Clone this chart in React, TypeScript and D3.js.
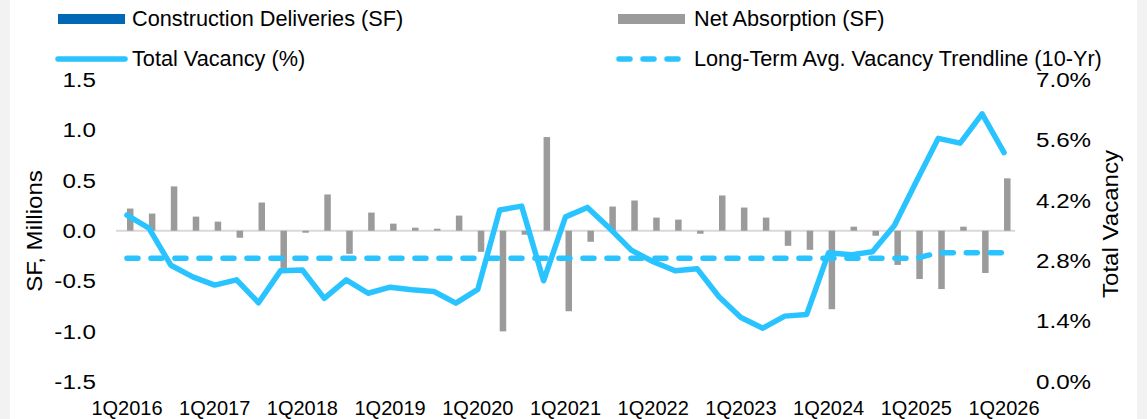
import React from "react";
import * as d3 from "d3";

const quarters = [
  "1Q2016", "2Q2016", "3Q2016", "4Q2016",
  "1Q2017", "2Q2017", "3Q2017", "4Q2017",
  "1Q2018", "2Q2018", "3Q2018", "4Q2018",
  "1Q2019", "2Q2019", "3Q2019", "4Q2019",
  "1Q2020", "2Q2020", "3Q2020", "4Q2020",
  "1Q2021", "2Q2021", "3Q2021", "4Q2021",
  "1Q2022", "2Q2022", "3Q2022", "4Q2022",
  "1Q2023", "2Q2023", "3Q2023", "4Q2023",
  "1Q2024", "2Q2024", "3Q2024", "4Q2024",
  "1Q2025", "2Q2025", "3Q2025", "4Q2025",
  "1Q2026",
];

// SF, millions
const deliveries = [
  0, 0, 0, 0, 0, 0, 0, 0, 0, 0, 0, 0, 0, 0, 0, 0, 0, 0, 0, 0, 0,
  0, 0, 0, 0, 0, 0, 0, 0, 0, 0, 0, 0, 0, 0, 0, 0, 0, 0, 0, 0,
];
const absorption = [
  0.22, 0.17, 0.44, 0.14, 0.09, -0.07, 0.28, -0.37,
  -0.02, 0.36, -0.23, 0.18, 0.07, 0.03, 0.02, 0.15,
  -0.21, -1.0, -0.04, 0.93, -0.8, -0.11, 0.24, 0.3,
  0.13, 0.11, -0.03, 0.35, 0.23, 0.13, -0.15, -0.19,
  -0.78, 0.04, -0.05, -0.34, -0.48, -0.58, 0.04, -0.42,
  0.52,
];
// percent
const vacancy = [
  3.86, 3.56, 2.7, 2.43, 2.24, 2.36, 1.83, 2.57,
  2.59, 1.93, 2.36, 2.05, 2.19, 2.13, 2.09, 1.82,
  2.14, 3.98, 4.07, 2.34, 3.82, 4.04, 3.56, 3.05,
  2.78, 2.57, 2.62, 1.97, 1.49, 1.24, 1.52, 1.56,
  2.99, 2.94, 3.01, 3.62, 4.64, 5.64, 5.53, 6.21,
  5.31,
];
const trendline = [
  2.86, 2.86, 2.86, 2.86, 2.86, 2.86, 2.86, 2.86,
  2.86, 2.86, 2.86, 2.86, 2.86, 2.86, 2.86, 2.86,
  2.86, 2.86, 2.86, 2.86, 2.86, 2.86, 2.86, 2.86,
  2.86, 2.86, 2.86, 2.86, 2.86, 2.86, 2.86, 2.86,
  2.86, 2.86, 2.86, 2.86, 2.86, 2.99, 2.99, 2.99,
  2.99,
];

const leftTicks = [-1.5, -1.0, -0.5, 0, 0.5, 1.0, 1.5];
const rightTicks = [0, 1.4, 2.8, 4.2, 5.6, 7.0];

const W = 1147;
const H = 419;
const FONT = "'Liberation Sans', Arial, sans-serif";
const BLUE = "#29C4FF";
const GRAY = "#9B9B9B";
const NAVY = "#0068B4";
const STRETCH = 1.18; // axis text in the source is a bit wider than tall

export default function App() {
  const x = d3.scaleBand<string>().domain(quarters).range([116, 1015]);
  const bw = x.bandwidth();
  const cx = (i: number) => (x(quarters[i]) as number) + bw / 2;
  const yL = d3.scaleLinear().domain([-1.5, 1.5]).range([381.7, 79.7]);
  const yR = d3.scaleLinear().domain([0, 7]).range([381.7, 79.7]);
  const barW = 6.5;

  const line = d3
    .line<number>()
    .x((_, i) => cx(i))
    .y((d) => yR(d));

  return (
    <svg
      width={W}
      height={H}
      style={{ position: "absolute", left: 0, top: 0, background: "#fff" }}
      fontFamily={FONT}
    >
      <rect x={0} y={0} width={10} height={H} fill="#F2F2F2" />
      <rect x={1137} y={0} width={W - 1137} height={H} fill="#F2F2F2" />

      {/* legend */}
      <rect x={58} y={14} width={67} height={10} fill={NAVY} />
      <text x={132} y={18} dy="0.35em" fontSize={21.7}>Construction Deliveries (SF)</text>
      <rect x={618} y={14} width={67} height={10} fill={GRAY} />
      <text x={694} y={18} dy="0.35em" fontSize={21.7}>Net Absorption (SF)</text>
      <line x1={58} x2={125} y1={59} y2={59} stroke={BLUE} strokeWidth={5.5} strokeLinecap="round" />
      <text x={132} y={58} dy="0.35em" fontSize={21.7}>Total Vacancy (%)</text>
      <line
        x1={619}
        x2={683}
        y1={59}
        y2={59}
        stroke={BLUE}
        strokeWidth={5.5}
        strokeLinecap="round"
        strokeDasharray="11 13"
      />
      <text x={694} y={58} dy="0.35em" fontSize={21.7}>Long-Term Avg. Vacancy Trendline (10-Yr)</text>

      {/* left axis */}
      {leftTicks.map((t) => (
        <text
          key={t}
          transform={`translate(96,${yL(t)}) scale(${STRETCH},1)`}
          dy="0.35em"
          textAnchor="end"
          fontSize={20.5}
        >
          {t.toFixed(1)}
        </text>
      ))}
      <text
        transform={`translate(42,231) rotate(-90) scale(1.12,1)`}
        textAnchor="middle"
        fontSize={21.5}
      >
        SF, Millions
      </text>

      {/* right axis */}
      {rightTicks.map((t) => (
        <text
          key={t}
          transform={`translate(1036,${yR(t)}) scale(${STRETCH},1)`}
          dy="0.35em"
          fontSize={20.5}
        >
          {t.toFixed(1)}%
        </text>
      ))}
      <text
        transform={`translate(1118,224) rotate(-90) scale(1.12,1)`}
        textAnchor="middle"
        fontSize={21.5}
      >
        Total Vacancy
      </text>

      {/* x labels */}
      {quarters.map((q, i) =>
        i % 4 === 0 ? (
          <text key={q} x={cx(i)} y={415} textAnchor="middle" fontSize={20}>
            {q}
          </text>
        ) : null
      )}

      {/* zero line */}
      <line x1={116} x2={1015} y1={yL(0)} y2={yL(0)} stroke="#D9D9D9" strokeWidth={2} />

      {/* bars */}
      {deliveries.map((d, i) => (
        <rect
          key={"d" + i}
          x={cx(i) - barW}
          y={Math.min(yL(d), yL(0))}
          width={barW}
          height={Math.abs(yL(d) - yL(0))}
          fill={NAVY}
        />
      ))}
      {absorption.map((d, i) => (
        <rect
          key={"a" + i}
          x={cx(i)}
          y={Math.min(yL(d), yL(0))}
          width={barW}
          height={Math.abs(yL(d) - yL(0))}
          fill={GRAY}
        />
      ))}

      {/* lines */}
      <path
        d={line(trendline) || ""}
        fill="none"
        stroke={BLUE}
        strokeWidth={5.5}
        strokeLinecap="round"
        strokeDasharray="11 13"
      />
      <path
        d={line(vacancy) || ""}
        fill="none"
        stroke={BLUE}
        strokeWidth={5.5}
        strokeLinecap="round"
        strokeLinejoin="round"
      />
    </svg>
  );
}
